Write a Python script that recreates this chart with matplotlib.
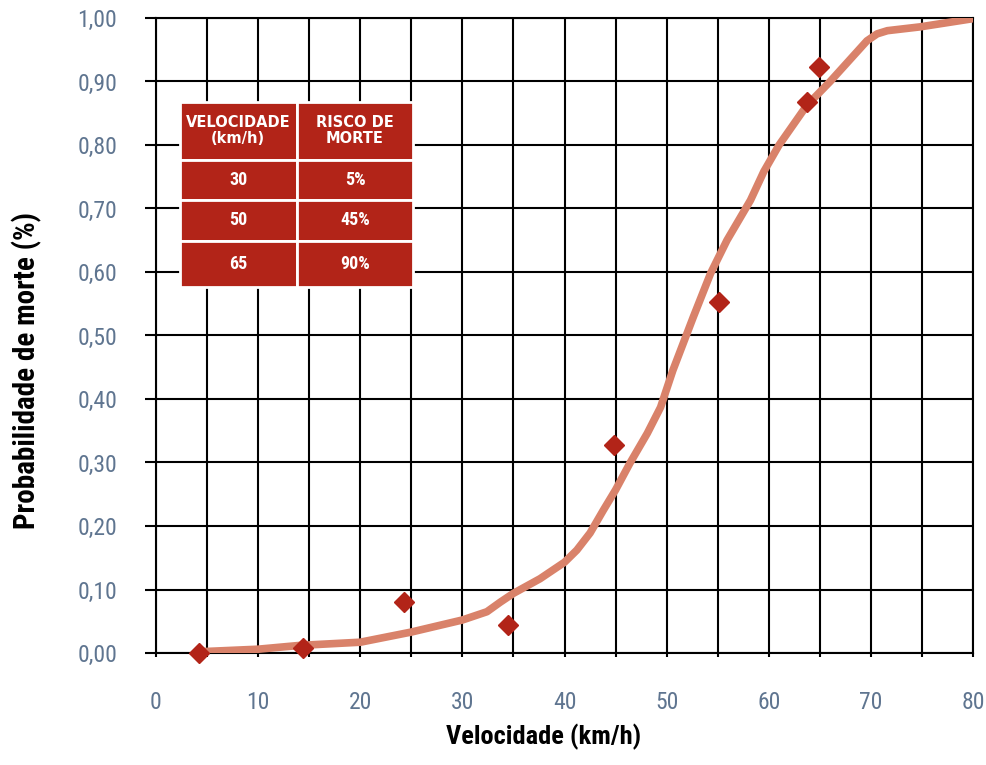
import matplotlib
matplotlib.use("Agg")
import matplotlib.pyplot as plt
from matplotlib import font_manager
import numpy as np

# curve
curve_x = [4.3, 10.0, 14.1, 20.0, 25.0, 30.0, 32.4, 33.7, 35.0, 37.6, 40.0, 41.2,
           42.5, 43.8, 45.0, 46.4, 48.1, 49.4, 50.6, 52.6, 54.3, 55.9, 58.2, 59.5,
           61.0, 63.7, 66.0, 69.6, 70.6, 71.6, 74.8, 80.0]
curve_y = [0.002, 0.006, 0.012, 0.017, 0.033, 0.052, 0.065, 0.080, 0.094, 0.117,
           0.143, 0.162, 0.189, 0.225, 0.257, 0.299, 0.346, 0.387, 0.445, 0.529,
           0.598, 0.650, 0.713, 0.758, 0.800, 0.862, 0.900, 0.964, 0.975, 0.980,
           0.986, 0.999]

# observed points (diamonds)
obs_x = [4.2, 14.4, 24.3, 34.5, 44.8, 55.1, 63.7, 64.9]
obs_y = [0.000, 0.008, 0.080, 0.044, 0.328, 0.553, 0.868, 0.923]

table_header = ["VELOCIDADE\n(km/h)", "RISCO DE\nMORTE"]
table_speed = ["30", "50", "65"]
table_risk = ["5%", "45%", "90%"]

x_ticks = np.arange(0, 81, 10)
y_ticks = np.arange(0, 1.01, 0.1)

# a narrow face if one is installed
installed = {f.name for f in font_manager.fontManager.ttflist}
narrow = None
for name in ["Liberation Sans Narrow", "Roboto Condensed", "Open Sans Condensed",
             "DejaVu Sans Condensed", "Roboto"]:
    if name in installed:
        narrow = name
        break
FONT = [narrow, "DejaVu Sans"] if narrow else ["DejaVu Sans"]
TICK_COLOR = "#5f7590"
RED = "#b22418"

fig = plt.figure(figsize=(9.87, 7.65), dpi=100)
ax = fig.add_axes([0.158, 0.1464, 0.828, 0.8301])

ax.plot(curve_x, curve_y, color="#d9826a", lw=5.5, solid_capstyle="round",
        solid_joinstyle="round", zorder=3)
ax.plot(obs_x, obs_y, linestyle="none", marker="D", markersize=10,
        color=RED, zorder=4, clip_on=False)

ax.set_xlim(0, 80)
ax.set_ylim(0, 1.0)
ax.set_xticks(x_ticks)
ax.set_xticks(np.arange(5, 80, 10), minor=True)
ax.set_yticks(y_ticks)
ax.set_xticklabels([str(v) for v in x_ticks], family=FONT, fontsize=17,
                   color=TICK_COLOR)
ax.set_yticklabels([f"{v:.2f}".replace(".", ",") for v in y_ticks],
                   family=FONT, fontsize=17, color=TICK_COLOR)
ax.tick_params(axis="y", length=8, width=1.5, pad=20, color="black")
ax.tick_params(axis="x", which="both", length=3, width=1.5, pad=24, color="black")
ax.grid(True, which="both", color="black", lw=1.5, zorder=1)
for s in ax.spines.values():
    s.set_linewidth(1.5)
    s.set_color("black")
ax.set_axisbelow(True)

fig.text(0.551, 0.019, "Velocidade (km/h)", family=FONT, fontsize=19,
         fontweight="bold", ha="center", va="bottom")
fig.text(0.027, 0.516, "Probabilidade de morte (%)", family=FONT, fontsize=21,
         fontweight="bold", ha="center", va="center", rotation=90)

cells = [[s, r] for s, r in zip(table_speed, table_risk)]
tbl = ax.table(cellText=[table_header] + cells,
               cellColours=[[RED, RED]] * (len(cells) + 1),
               cellLoc="center",
               bbox=[0.029, 0.576, 0.286, 0.292], zorder=5)
tbl.auto_set_font_size(False)
heights = [57, 40, 40, 46]
for (r, c), cell in tbl.get_celld().items():
    cell.set_edgecolor("white")
    cell.set_linewidth(2)
    cell.set_height(heights[r])
    txt = cell.get_text()
    txt.set_color("white")
    txt.set_fontweight("bold")
    if r == 0:
        txt.set_family("DejaVu Sans")
        txt.set_fontsize(10.5)
    else:
        txt.set_family(FONT)
        txt.set_fontsize(13)
    txt.set_linespacing(1.05)

fig.savefig("out.png", dpi=100)
